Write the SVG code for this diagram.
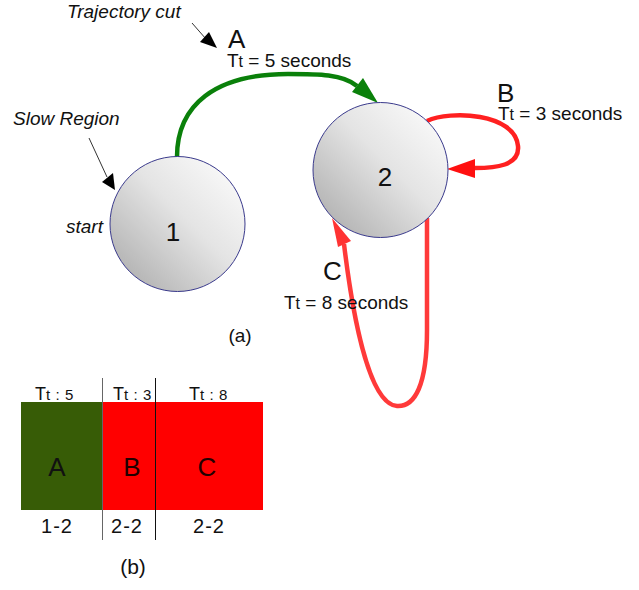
<svg xmlns="http://www.w3.org/2000/svg" width="639" height="590" viewBox="0 0 639 590">
<defs>
<linearGradient id="ball" x1="1" y1="0" x2="0" y2="1">
<stop offset="0" stop-color="#ffffff"/>
<stop offset="0.45" stop-color="#e4e4e4"/>
<stop offset="1" stop-color="#a6a6a6"/>
</linearGradient>
</defs>
<style>
text{font-family:"Liberation Sans",Arial,sans-serif;fill:#111}
.it{font-style:italic;font-size:19px}
.lbl{font-size:19px}
.big{font-size:26px}
.node circle{fill:url(#ball);stroke:#3a3a8c;stroke-width:1}
.num{font-size:26px;text-anchor:middle}
.ptr{stroke:#333;stroke-width:1;fill:none}
.ptrh{fill:#000}
.g{stroke:#0a800a;stroke-width:4.5;fill:none}
.gh{fill:#0a800a}
.r{stroke:#ff2020;stroke-width:4.5;fill:none}
.rh{fill:#ff1010}
.rc{stroke:#ff3a3a;stroke-width:4.5;fill:none}
.rch{fill:#ff3333}
.mid{text-anchor:middle}
.hd{font-size:18px}
.sm{font-size:15px;letter-spacing:0.6px}
.pair{font-size:20px;letter-spacing:1px;text-anchor:middle}
</style>

<g id="connectors">
<path class="g" d="M177,157 C177,105 215,74 288,74 C318,74 343,74 357,86"/>
<polygon class="gh" points="352,92 363,78 378,103"/>
<path class="r" d="M427,121 C450,110 515,113 518,146 C520,166 495,168 475,168"/>
<polygon class="rh" points="475,159 475,178 447,169"/>
<path class="rc" d="M427,218 L427,330 C427,385 415,407 397,406 C368,404 352,310 344,244"/>
<polygon class="rch" points="332,218 338,247 351,241"/>
<line class="ptr" x1="192" y1="23" x2="206" y2="39"/>
<polygon class="ptrh" points="200,42 209,32 217,48"/>
<line class="ptr" x1="89" y1="138" x2="107" y2="177"/>
<polygon class="ptrh" points="102,182 113,173 115,190"/>
</g>

<g id="node1" class="node">
<circle cx="177.5" cy="224" r="67.5"/>
<text class="num" x="173" y="241">1</text>
</g>
<g id="node2" class="node">
<circle cx="380.5" cy="170" r="67.5"/>
<text class="num" x="385" y="186">2</text>
</g>

<g id="labels">
<text class="it" x="67" y="18">Trajectory cut</text>
<text class="big" x="228" y="48">A</text>
<text class="lbl" x="227" y="67">T<tspan font-size="16">t</tspan> = 5 seconds</text>
<text class="big" x="497" y="102">B</text>
<text class="lbl" x="498" y="120">T<tspan font-size="16">t</tspan> = 3 seconds</text>
<text class="big" x="323" y="280">C</text>
<text class="lbl" x="284" y="309">T<tspan font-size="16">t</tspan> = 8 seconds</text>
<text class="it" x="13" y="125">Slow Region</text>
<text class="it" x="66" y="233">start</text>
<text class="lbl mid" x="240" y="342">(a)</text>
</g>

<g id="table">
<rect x="21" y="402" width="81" height="108" fill="#375c06"/>
<rect x="102" y="402" width="161" height="108" fill="#ff0000"/>
<line x1="102.5" y1="378" x2="102.5" y2="540" stroke="#666" stroke-width="1"/>
<line x1="155.5" y1="378" x2="155.5" y2="540" stroke="#111" stroke-width="1"/>
<text class="hd" x="35" y="400">T<tspan class="sm">t : 5</tspan></text>
<text class="hd" x="113" y="400">T<tspan class="sm">t : 3</tspan></text>
<text class="hd" x="189" y="400">T<tspan class="sm">t : 8</tspan></text>
<text class="big mid" x="57" y="476">A</text>
<text class="big mid" x="132" y="476" style="fill:#220000">B</text>
<text class="big mid" x="207" y="476" style="fill:#220000">C</text>
<text class="pair" x="57" y="533">1-2</text>
<text class="pair" x="127" y="533">2-2</text>
<text class="pair" x="209" y="533">2-2</text>
<text class="mid" x="133" y="574" font-size="21">(b)</text>
</g>
</svg>
